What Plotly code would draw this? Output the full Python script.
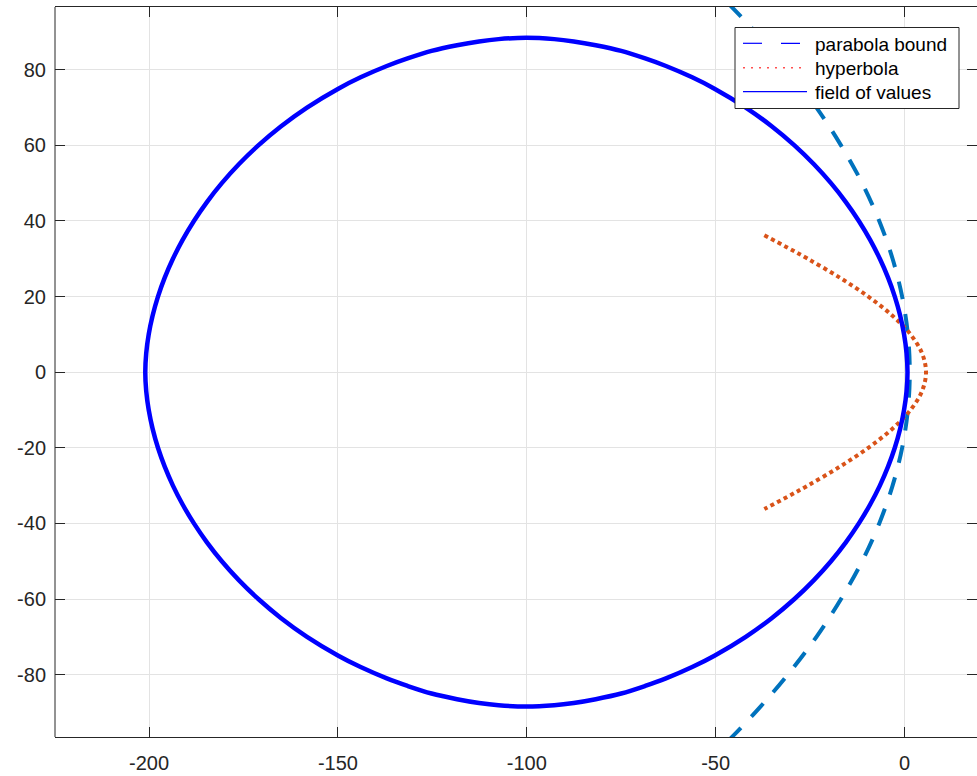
import plotly.graph_objects as go

# Field of values boundary: upper half from the left tip to the right tip,
# then the lower half back to the left tip.
fov_x = [-201.0, -200.75, -200.09, -199.05, -197.64, -195.85, -193.68, -191.11, -188.12,
         -184.68, -180.74, -176.23, -171.07, -165.12, -158.18, -149.89, -143.99, -137.05,
         -131.55, -125.21, -118.46, -112.64, -107.47, -100.1,
         -92.73, -87.56, -81.74, -74.99, -68.65, -63.15, -56.21, -50.31, -42.02, -35.08,
         -29.13, -23.97, -19.46, -15.52, -12.08, -9.09, -6.52, -4.35, -2.56, -1.15,
         -0.11, 0.55, 0.8,
         0.55, -0.11, -1.15, -2.56, -4.35, -6.52, -9.09, -12.08, -15.52, -19.46,
         -23.97, -29.13, -35.08, -42.02, -50.31, -56.21, -63.15, -68.65, -74.99, -81.74,
         -87.56, -92.73, -100.1,
         -107.47, -112.64, -118.46, -125.21, -131.55, -137.05, -143.99, -149.89, -158.18,
         -165.12, -171.07, -176.23, -180.74, -184.68, -188.12, -191.11, -193.68, -195.85,
         -197.64, -199.05, -200.09, -200.75, -201.0]
fov_y = [0.0, 5.0, 10.0, 15.0, 20.0, 25.0, 30.0, 35.0, 40.0,
         45.0, 50.0, 55.0, 60.0, 65.0, 70.0, 75.0, 78.0, 81.0,
         83.0, 85.0, 86.5, 87.5, 88.1, 88.45,
         88.1, 87.5, 86.5, 85.0, 83.0, 81.0, 78.0, 75.0, 70.0, 65.0,
         60.0, 55.0, 50.0, 45.0, 40.0, 35.0, 30.0, 25.0, 20.0, 15.0,
         10.0, 5.0, 0.0,
         -5.0, -10.0, -15.0, -20.0, -25.0, -30.0, -35.0, -40.0, -45.0, -50.0,
         -55.0, -60.0, -65.0, -70.0, -75.0, -78.0, -81.0, -83.0, -85.0, -86.5,
         -87.5, -88.1, -88.45,
         -88.1, -87.5, -86.5, -85.0, -83.0, -81.0, -78.0, -75.0, -70.0,
         -65.0, -60.0, -55.0, -50.0, -45.0, -40.0, -35.0, -30.0, -25.0,
         -20.0, -15.0, -10.0, -5.0, 0.0]

# Parabola bound
par_x = [-46.6, -39.5, -30.9, -23.3, -16.8, -11.2, -6.68, -3.15, -0.62, 0.9, 1.4,
         0.9, -0.62, -3.15, -6.68, -11.2, -16.8, -23.3, -30.9, -39.5, -49.1]
par_y = [97.5, 90, 80, 70, 60, 50, 40, 30, 20, 10, 0,
         -10, -20, -30, -40, -50, -60, -70, -80, -90, -100]

# Hyperbola
hyp_x = [-37.1, -31.05, -25.6, -17.12, -9.58, -3.25, 1.60, 4.65, 5.7,
         4.65, 1.60, -3.25, -9.58, -17.12, -25.6, -31.05, -37.1]
hyp_y = [36.2, 33.0, 30.0, 25.0, 20.0, 15.0, 10.0, 5.0, 0.0,
         -5.0, -10.0, -15.0, -20.0, -25.0, -30.0, -33.0, -36.2]

x_tick_vals = [-200, -150, -100, -50, 0]
x_tick_text = ["-200", "-150", "-100", "-50", "0"]
y_tick_vals = [-80, -60, -40, -20, 0, 20, 40, 60, 80]
y_tick_text = ["-80", "-60", "-40", "-20", "0", "20", "40", "60", "80"]

legend_labels = ["parabola bound", "hyperbola", "field of values"]

FONT = "Liberation Sans, Arial, Helvetica, sans-serif"
AXIS_COLOR = "#262626"

W, H = 977, 776
ML, MR, MT, MB = 55, 0, 7, 39
PW, PH = W - ML - MR, H - MT - MB

fig = go.Figure()

fig.add_trace(go.Scatter(x=par_x, y=par_y, mode="lines", showlegend=False,
                         line=dict(color="#0072BD", width=4, dash="18px,15px", shape="spline"),
                         hoverinfo="skip"))
fig.add_trace(go.Scatter(x=hyp_x, y=hyp_y, mode="lines", showlegend=False,
                         line=dict(color="#D95319", width=4, dash="4px,3.5px", shape="spline"),
                         hoverinfo="skip"))
fig.add_trace(go.Scatter(x=fov_x, y=fov_y, mode="lines", showlegend=False,
                         line=dict(color="#0000FF", width=4.5, shape="spline"),
                         hoverinfo="skip"))


def px(xp):
    return (xp - ML) / PW


def py(yp):
    return 1 - (yp - MT) / PH


shapes = [
    # left spine
    dict(type="line", xref="paper", yref="paper", x0=0, x1=0, y0=0, y1=1,
         line=dict(color=AXIS_COLOR, width=1), layer="above"),
    # legend box
    dict(type="rect", xref="paper", yref="paper",
         x0=px(735), x1=px(959), y0=py(108.5), y1=py(27.5),
         line=dict(color=AXIS_COLOR, width=1), fillcolor="white", layer="above"),
]

sample_y = [43.3, 67.7, 91.7]
sample_styles = [
    dict(color="#0000FF", width=1.2, dash="19px,19px"),
    dict(color="#FF5050", width=1.5, dash="2px,6px"),
    dict(color="#0000FF", width=1.2),
]
for yy, st in zip(sample_y, sample_styles):
    shapes.append(dict(type="line", xref="paper", yref="paper",
                       x0=px(743), x1=px(807), y0=py(yy), y1=py(yy),
                       line=st, layer="above"))

annotations = []
for yy, lab in zip(sample_y, legend_labels):
    annotations.append(dict(text=lab, xref="paper", yref="paper",
                            x=px(813), y=py(yy + 1), xanchor="left", yanchor="middle",
                            showarrow=False, font=dict(family=FONT, size=19, color="#000000")))

axis_common = dict(
    ticks="inside", ticklen=10, tickwidth=1, tickcolor=AXIS_COLOR,
    mirror="ticks", showgrid=True, gridcolor="#e3e3e3", gridwidth=1,
    zeroline=False, tickfont=dict(family=FONT, size=20, color=AXIS_COLOR),
)

fig.update_layout(
    width=W, height=H,
    margin=dict(l=ML, r=MR, t=MT, b=MB, pad=0),
    paper_bgcolor="white", plot_bgcolor="white",
    xaxis=dict(range=[-224.9, 19.2], tickvals=x_tick_vals, ticktext=x_tick_text,
               showline=True, linecolor=AXIS_COLOR, linewidth=1,
               ticklabelstandoff=8, **axis_common),
    yaxis=dict(range=[-96.5, 96.6], tickvals=y_tick_vals, ticktext=y_tick_text,
               showline=False, ticklabelstandoff=8, **axis_common),
    shapes=shapes,
    annotations=annotations,
    showlegend=False,
)

fig.write_html("out.html")
